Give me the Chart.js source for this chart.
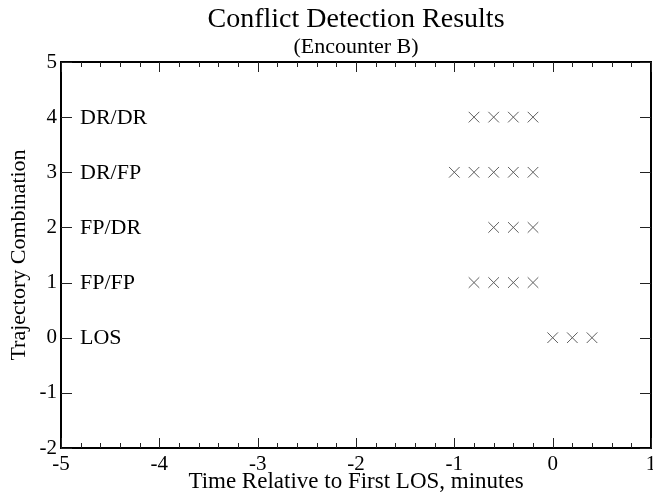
<!DOCTYPE html>
<html>
<head>
<meta charset="utf-8">
<title>Conflict Detection Results</title>
<script src="https://cdn.jsdelivr.net/npm/chart.js@4/dist/chart.umd.min.js"></script>
<style>
  html, body { margin: 0; padding: 0; background: #fff; overflow: hidden; }
  #wrap { width: 653px; height: 495px; }
</style>
</head>
<body>
<div id="wrap"><canvas id="graph"></canvas></div>
<script>
// trajectory combinations, bottom to top
const rowNames = ['LOS', 'FP/FP', 'FP/DR', 'DR/FP', 'DR/DR'];
const rowY = [0, 1, 2, 3, 4];

// detection times (minutes relative to first LOS) for each row
const losTimes = [0, 0.2, 0.4];
const fpfpTimes = [-0.8, -0.6, -0.4, -0.2];
const fpdrTimes = [-0.6, -0.4, -0.2];
const drfpTimes = [-1.0, -0.8, -0.6, -0.4, -0.2];
const drdrTimes = [-0.8, -0.6, -0.4, -0.2];
const rowTimes = [losTimes, fpfpTimes, fpdrTimes, drfpTimes, drdrTimes];

const xMin = -5, xMax = 1, xStep = 0.2;
const yMin = -2, yMax = 5, yStep = 1;

const serif = '"Liberation Serif", "DejaVu Serif", serif';

const datasets = rowNames.map((name, i) => ({
  label: name,
  data: rowTimes[i].map(t => ({ x: t, y: rowY[i] })),
  pointStyle: 'crossRot',
  pointRadius: 7.5,
  pointHoverRadius: 7.5,
  borderColor: '#5e5e5e',
  backgroundColor: '#5e5e5e',
  borderWidth: 1,
  showLine: false,
}));

const isWhole = v => Math.abs(v - Math.round(v)) < 1e-6;
const noGrid = { display: false, drawTicks: false };

// inward tick marks on all four sides + row names inside the plot
const frameMarks = {
  id: 'frameMarks',
  afterDatasetsDraw(chart) {
    const { ctx, chartArea: a, scales } = chart;
    ctx.save();
    ctx.strokeStyle = '#222';
    ctx.lineWidth = 1;
    ctx.beginPath();
    scales.x.ticks.forEach(t => {
      const px = Math.round(scales.x.getPixelForValue(t.value)) + 0.5;
      const len = isWhole(t.value) ? 10 : 5;
      ctx.moveTo(px, a.bottom);
      ctx.lineTo(px, a.bottom - len);
      ctx.moveTo(px, a.top);
      ctx.lineTo(px, a.top + len);
    });
    scales.y.ticks.forEach(t => {
      const py = Math.round(scales.y.getPixelForValue(t.value)) + 0.5;
      ctx.moveTo(a.left, py);
      ctx.lineTo(a.left + 11, py);
      ctx.moveTo(a.right, py);
      ctx.lineTo(a.right - 11, py);
    });
    ctx.stroke();

    ctx.fillStyle = '#000';
    ctx.font = '22px ' + serif;
    ctx.textAlign = 'left';
    ctx.textBaseline = 'middle';
    rowNames.forEach((name, i) => {
      ctx.fillText(name, a.left + 19, scales.y.getPixelForValue(rowY[i]) + 1);
    });
    ctx.restore();
  }
};

new Chart(document.getElementById('graph'), {
  type: 'scatter',
  data: { datasets: datasets },
  plugins: [frameMarks],
  options: {
    responsive: true,
    maintainAspectRatio: false,
    animation: false,
    events: [],
    layout: { autoPadding: false, padding: { left: 0, right: 2, top: 0, bottom: 0 } },
    plugins: {
      legend: { display: false },
      tooltip: { enabled: false },
      title: {
        display: true,
        fullSize: false,
        text: 'Conflict Detection Results',
        color: '#000',
        font: { family: serif, size: 28, weight: 'normal', lineHeight: 1 },
        padding: { top: 6, bottom: 2 },
      },
      subtitle: {
        display: true,
        fullSize: false,
        text: '(Encounter B)',
        color: '#000',
        font: { family: serif, size: 22, weight: 'normal', lineHeight: 1 },
        padding: { top: 0, bottom: 4 },
      },
    },
    scales: {
      x: {
        type: 'linear',
        position: 'bottom',
        min: xMin,
        max: xMax,
        afterFit: s => { s.height = 47; s.paddingRight = 0; },
        ticks: {
          stepSize: xStep,
          autoSkip: false,
          maxRotation: 0,
          padding: 4,
          color: '#000',
          font: { family: serif, size: 21 },
          callback: v => (isWhole(v) ? String(Math.round(v)) : ''),
        },
        grid: noGrid,
        border: { display: true, color: '#000', width: 2 },
        title: {
          display: true,
          text: 'Time Relative to First LOS, minutes',
          color: '#000',
          font: { family: serif, size: 23, lineHeight: 1.1 },
          padding: { top: 0, bottom: 0 },
        },
      },
      y: {
        type: 'linear',
        position: 'left',
        min: yMin,
        max: yMax,
        afterFit: s => { s.width = 61; },
        ticks: {
          stepSize: yStep,
          padding: 4,
          color: '#000',
          font: { family: serif, size: 21 },
        },
        grid: noGrid,
        border: { display: true, color: '#000', width: 2 },
        title: {
          display: true,
          text: 'Trajectory Combination',
          color: '#000',
          font: { family: serif, size: 22, lineHeight: 1.1 },
          padding: { top: 7, bottom: 0 },
        },
      },
      x2: {
        type: 'linear',
        axis: 'x',
        position: 'top',
        min: xMin,
        max: xMax,
        afterFit: s => { s.height = 0; },
        ticks: { display: false },
        grid: noGrid,
        border: { display: true, color: '#000', width: 2 },
      },
      y2: {
        type: 'linear',
        axis: 'y',
        position: 'right',
        min: yMin,
        max: yMax,
        afterFit: s => { s.width = 0; },
        ticks: { display: false },
        grid: noGrid,
        border: { display: true, color: '#000', width: 2 },
      },
    },
  },
});
</script>
</body>
</html>
